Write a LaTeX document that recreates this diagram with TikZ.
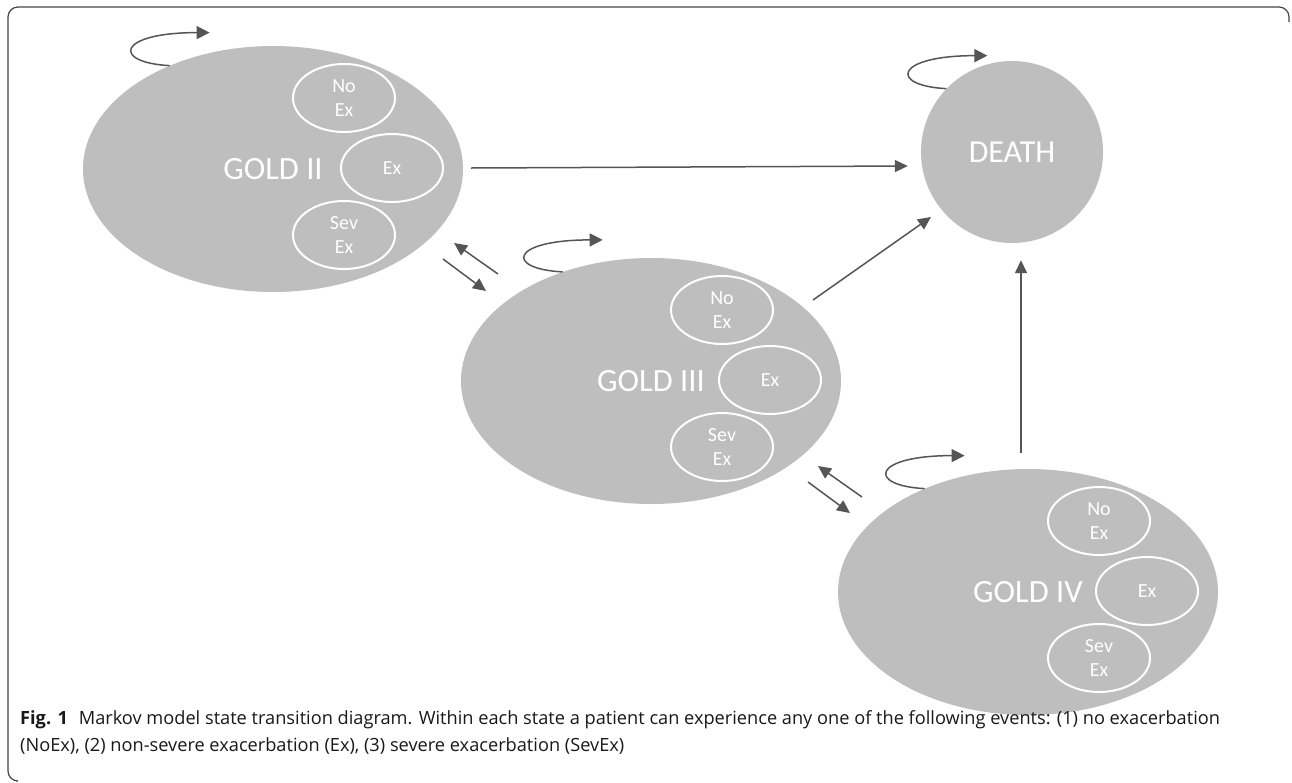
\documentclass[tikz,border=0pt]{standalone}
\usepackage{fontspec}
\setmainfont{Carlito}
\newfontfamily\capfont{Open Sans}
\usetikzlibrary{shapes.geometric,arrows.meta,calc}
\definecolor{stategray}{RGB}{190,190,190}
\definecolor{linegray}{RGB}{85,85,85}
\definecolor{framegray}{RGB}{70,70,70}
\begin{document}
\begin{tikzpicture}[x=1pt,y=-1pt,
  state/.style={ellipse, fill=stategray, text=white, inner sep=0pt,
    minimum width=380pt, minimum height=246pt, font=\fontsize{32.5}{36}\selectfont},
  sub/.style={ellipse, draw=white, line width=2pt, text=white, inner sep=0pt,
    minimum width=102pt, minimum height=68pt, align=center,
    font=\fontsize{20}{24}\selectfont},
  arr/.style={draw=linegray, line width=1.5pt, -{Triangle[length=13pt,width=12pt]}},
  loopline/.style={draw=linegray, line width=1.5pt, -{Triangle[length=13pt,width=13pt]}},
  frame/.style={draw=framegray, line width=1.2pt, rounded corners=10pt},
]
\useasboundingbox (0,0) rectangle (1292,782);
\fill[white] (0,0) rectangle (1292,782);
\draw[frame] (1289,22) -- (1289,7) -- (8,7) -- (8,781) -- (16,781);

% states
\node[state] (g2) at (273,169) {GOLD II};
\node[state] (g3) at (651,381) {GOLD III};
\node[state] (g4) at (1028,592) {GOLD IV};
\node[circle, fill=stategray, text=white, minimum size=182pt, inner sep=0pt,
  font=\fontsize{32}{36}\selectfont] (death) at (1012,152) {DEATH};

% sub-states
\node[sub] (g2a) at ($(g2)+(71,-71)$) {No\\Ex};
\node[sub] (g2b) at ($(g2)+(119,-1)$) {Ex};
\node[sub] (g2c) at ($(g2)+(71,66)$) {Sev\\Ex};
\node[sub] (g3a) at ($(g3)+(71,-71)$) {No\\Ex};
\node[sub] (g3b) at ($(g3)+(119,-1)$) {Ex};
\node[sub] (g3c) at ($(g3)+(71,66)$) {Sev\\Ex};
\node[sub] (g4a) at ($(g4)+(71,-71)$) {No\\Ex};
\node[sub] (g4b) at ($(g4)+(119,-1)$) {Ex};
\node[sub] (g4c) at ($(g4)+(71,66)$) {Sev\\Ex};

% self loops
\coordinate (g2e) at ($(g2.135)+(40,-33)$);
\coordinate (g3e) at ($(g3.129)+(40,-32)$);
\coordinate (g4e) at ($(g4.135)+(40,-33)$);
\coordinate (de) at ($(death.136)+(41,-33)$);
\draw[loopline] (g2.135) .. controls +(-58,-3) and +(-93,0) .. (g2e);
\draw[loopline] (g3.129) .. controls +(-58,-3) and +(-93,0) .. (g3e);
\draw[loopline] (g4.135) .. controls +(-58,-3) and +(-93,0) .. (g4e);
\draw[loopline] (death.136) .. controls +(-58,-3) and +(-93,0) .. (de);

% transitions to death
\draw[arr] ($(g2.east)+(8,-1)$) -- ($(death.west)+(-13,14)$);
\draw[arr] ($(g3.center)+(162,-81)$) -- ($(death.center)+(-81,65)$);
\draw[arr] ($(g4.north)+(-7,-16)$) -- ($(death.south)+(9,17)$);

% transitions between GOLD states
\draw[arr] ($(g2.center)+(170,90)$) -- ($(g3.center)+(-165,-90)$);
\draw[arr] ($(g3.center)+(-153,-107)$) -- ($(g2.center)+(181,74)$);
\draw[arr] ($(g3.center)+(157,101)$) -- ($(g4.center)+(-178,-79)$);
\draw[arr] ($(g4.center)+(-166,-95)$) -- ($(g3.center)+(167,85)$);

% caption
\node[anchor=west, align=left, inner sep=0pt, text=black!90,
  font=\capfont\fontsize{18.2}{27}\selectfont] (cap) at (20,732)
  {\textbf{Fig. 1}\hspace{0.6em}Markov model state transition diagram. Within each state a patient can experience any one of the following events: (1) no exacerbation\\
  (NoEx), (2) non-severe exacerbation (Ex), (3) severe exacerbation (SevEx)};
\end{tikzpicture}
\end{document}
